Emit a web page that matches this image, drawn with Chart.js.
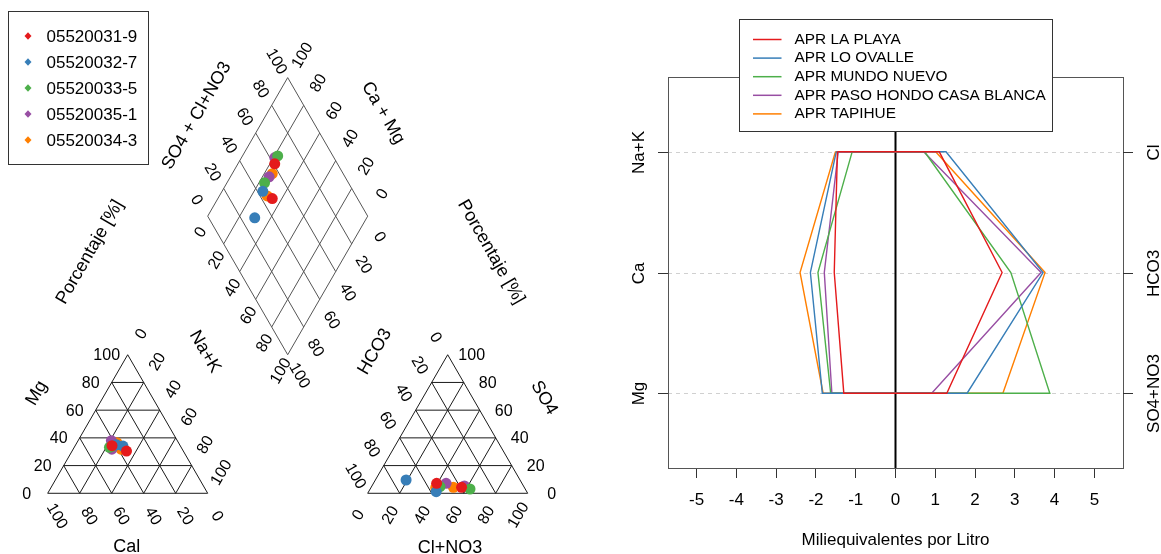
<!DOCTYPE html>
<html>
<head>
<meta charset="utf-8">
<script src="https://cdn.jsdelivr.net/npm/chart.js@4.4.1/dist/chart.umd.min.js"></script>
<style>
html,body{margin:0;padding:0;background:#fff;}
#wrap{position:relative;width:1161px;height:554px;overflow:hidden;background:#fff;}
#piper{position:absolute;left:0;top:0;width:580px;height:554px;}
#stiff{position:absolute;left:580px;top:0;width:581px;height:554px;}
</style>
</head>
<body>
<div id="wrap">
<canvas id="piper" width="580" height="554"></canvas>
<canvas id="stiff" width="581" height="554"></canvas>
</div>
<script>
// ---------- Datos diagrama de Piper (% meq), dos muestras por estacion ----------
const estaciones = ["05520031-9","05520032-7","05520033-5","05520035-1","05520034-3"]
const colores = ["#E41A1C","#377EB8","#4DAF4A","#984EA3","#FF7F00"]

const calcio = [[42.6,35.5],[39.5,35.9],[44.8,42.5],[41.2,44.0],[38.5,38.3]]
const magnesio = [[34.4,30.5],[35.0,34.1],[33.2,34.0],[38.0,31.8],[36.5,31.8]]
const sodioPotasio = [[23.0,34.0],[25.5,30.0],[22.0,23.5],[20.8,24.2],[25.0,29.9]]
const bicarbonato = [[39.2,53.3],[56.6,71.2],[34.5,52.4],[36.9,47.4],[44.3,55.5]]
const sulfato = [[4.3,7.2],[1.2,9.6],[3.1,4.8],[5.3,7.2],[4.3,4.0]]
const cloruroNitrato = [[56.5,39.5],[42.2,19.2],[62.4,42.8],[57.8,45.4],[51.4,40.5]]

const ticksPct = [0,20,40,60,80,100]

// ---------- Datos diagrama de Stiff (meq/L) ----------
const aprs = ["APR LA PLAYA","APR LO OVALLE","APR MUNDO NUEVO","APR PASO HONDO CASA BLANCA","APR TAPIHUE"]
const stNaK = [1.46,1.49,1.09,1.44,1.51]
const stCa = [1.54,2.14,1.95,1.79,2.40]
const stMg = [1.30,1.84,1.63,1.60,1.82]
const stCl = [1.10,1.27,0.73,0.71,1.01]
const stHCO3 = [2.68,3.71,2.90,3.66,3.76]
const stSO4 = [1.29,1.80,3.88,0.91,2.70]
const ticksMeq = [-5,-4,-3,-2,-1,0,1,2,3,4,5]
const filas = [1,2,3]
const cationesEtq = ["Mg","Ca","Na+K"]
const anionesEtq = ["SO4+NO3","HCO3","Cl"]

Chart.defaults.font.family = "'Liberation Sans', Arial, sans-serif"
Chart.defaults.color = "#000"

// ---------- geometria del Piper (unidades: lado del triangulo = 100) ----------
const H = Math.sqrt(3)/2
const C0={x:0,y:0}, C1={x:100,y:0}, C2={x:50,y:100*H}          // cationes
const A0={x:200,y:0}, A1={x:300,y:0}, A2={x:250,y:100*H}        // aniones
const RB={x:150,y:100*H}, RL={x:100,y:200*H}, RR={x:200,y:200*H}, RT={x:150,y:300*H} // rombo

function mezcla(a,b,t){ return {x:a.x+(b.x-a.x)*t, y:a.y+(b.y-a.y)*t} }

function puntoCation(mg,nak){ return {x:C0.x+nak+mg/2, y:mg*H} }
function puntoAnion(so4,cl){ return {x:A0.x+cl+so4/2, y:so4*H} }
function puntoRombo(camg,sc){ return {x:RB.x+(sc-camg)/2, y:RB.y+(camg+sc)*H} }

const piperDatasets = estaciones.map((e,i)=>{
  const pts=[]
  for(let k=0;k<2;k++){
    pts.push(puntoCation(magnesio[i][k],sodioPotasio[i][k]))
    pts.push(puntoAnion(sulfato[i][k],cloruroNitrato[i][k]))
    pts.push(puntoRombo(calcio[i][k]+magnesio[i][k], sulfato[i][k]+cloruroNitrato[i][k]))
  }
  return {label:e,data:pts,backgroundColor:colores[i],borderWidth:0,pointRadius:5.5,pointHoverRadius:5.5}
})

function px(chart,p){ return [chart.scales.x.getPixelForValue(p.x), chart.scales.y.getPixelForValue(p.y)] }
function linea(ctx,chart,a,b){
  const [x1,y1]=px(chart,a), [x2,y2]=px(chart,b)
  ctx.moveTo(x1,y1); ctx.lineTo(x2,y2)
}
function texto(ctx,t,x,y,rot,size,align){
  ctx.save()
  ctx.translate(x,y)
  ctx.rotate(rot*Math.PI/180)
  ctx.font=size+"px 'Liberation Sans', Arial, sans-serif"
  ctx.fillStyle="#000"
  ctx.textAlign=align||"center"
  ctx.textBaseline="middle"
  ctx.fillText(t,0,0)
  ctx.restore()
}

// grupos de etiquetas de ejes: [desde, hasta, dx, dy, rotacion]
const gruposTicks = [
  [C1,C0,9,23,60],      // Ca (base cationes)
  [C0,C2,-21,1,0],      // Mg
  [C2,C1,14,-20.5,-60], // Na+K
  [A0,A1,-9,22,-60],    // Cl+NO3
  [A1,A2,24,1,0],       // SO4
  [A2,A0,-12.5,-17,60], // HCO3
  [RL,RT,-11.5,-16,60], // SO4 + Cl+NO3
  [RR,RT,15,-22,-60],   // Ca + Mg
  [RL,RB,-6.7,16.4,-60],// Na+K rombo
  [RR,RB,11.5,21,60]    // HCO3 rombo
]
// titulos: texto, posicion (unidades), rotacion
const titulosPiper = [
  ["Mg",{x:-6.9,y:62.5},-60],
  ["Na+K",{x:98.3,y:88.5},60],
  ["Cal",{x:49.4,y:-33.6},0],
  ["HCO3",{x:204.6,y:88.5},-60],
  ["SO4",{x:310.2,y:59.6},60],
  ["Cl+NO3",{x:251.4,y:-34.2},0],
  ["SO4 + Cl+NO3",{x:93.1,y:236},-60],
  ["Ca + Mg",{x:209.6,y:237.7},60],
  ["Porcentaje [%]",{x:26.4,y:150.8},-60],
  ["Porcentaje [%]",{x:277.1,y:150.8},60]
]

const piperPlugin = {
  id:"piperRejilla",
  beforeDatasetsDraw(chart){
    const ctx=chart.ctx
    const niveles=ticksPct.slice(1,-1).map(v=>v/100)
    ctx.save()
    ctx.lineWidth=1
    ctx.strokeStyle="#1a1a1a"
    ;[[C0,C1,C2],[A0,A1,A2]].forEach(tri=>{
      ctx.beginPath()
      linea(ctx,chart,tri[0],tri[1]); linea(ctx,chart,tri[1],tri[2]); linea(ctx,chart,tri[2],tri[0])
      niveles.forEach(t=>{
        linea(ctx,chart,mezcla(tri[0],tri[1],t),mezcla(tri[0],tri[2],t))
        linea(ctx,chart,mezcla(tri[1],tri[0],t),mezcla(tri[1],tri[2],t))
        linea(ctx,chart,mezcla(tri[2],tri[0],t),mezcla(tri[2],tri[1],t))
      })
      ctx.stroke()
    })
    ctx.strokeStyle="#555"
    ctx.beginPath()
    linea(ctx,chart,RB,RL); linea(ctx,chart,RL,RT); linea(ctx,chart,RT,RR); linea(ctx,chart,RR,RB)
    niveles.forEach(t=>{
      linea(ctx,chart,mezcla(RB,RL,t),mezcla(RR,RT,t))
      linea(ctx,chart,mezcla(RB,RR,t),mezcla(RL,RT,t))
    })
    ctx.stroke()
    ctx.restore()
  },
  afterDraw(chart){
    const ctx=chart.ctx
    gruposTicks.forEach(g=>{
      ticksPct.forEach(v=>{
        const [x,y]=px(chart,mezcla(g[0],g[1],v/100))
        texto(ctx,String(v),x+g[2],y+g[3],g[4],16)
      })
    })
    titulosPiper.forEach(t=>{
      const [x,y]=px(chart,t[1])
      texto(ctx,t[0],x,y,t[2],18)
    })
    // leyenda
    ctx.save()
    ctx.fillStyle="#fff"
    ctx.fillRect(8.5,11.5,140,153)
    ctx.strokeStyle="#333"
    ctx.lineWidth=1
    ctx.strokeRect(8.5,11.5,140,153)
    estaciones.forEach((e,i)=>{
      const y=36+i*26
      ctx.fillStyle=colores[i]
      ctx.beginPath()
      ctx.moveTo(28,y-3.8); ctx.lineTo(31.5,y); ctx.lineTo(28,y+3.8); ctx.lineTo(24.5,y); ctx.closePath()
      ctx.fill()
      texto(ctx,e,46.5,y+1,0,17,"left")
    })
    ctx.restore()
  }
}

new Chart(document.getElementById("piper"),{
  type:"scatter",
  data:{datasets:piperDatasets},
  options:{
    responsive:false, animation:false, devicePixelRatio:1,
    layout:{padding:0,autoPadding:false},
    plugins:{legend:{display:false},tooltip:{enabled:false}},
    scales:{
      x:{type:"linear",display:false,min:-29.81,max:332.69},
      y:{type:"linear",display:false,min:-37.94,max:308.31}
    }
  },
  plugins:[piperPlugin]
})

// ---------- Diagrama de Stiff ----------
const stiffDatasets = aprs.map((n,i)=>({
  label:n,
  data:[
    {x:-stNaK[i],y:filas[2]},{x:stCl[i],y:filas[2]},
    {x:stHCO3[i],y:filas[1]},{x:stSO4[i],y:filas[0]},
    {x:-stMg[i],y:filas[0]},{x:-stCa[i],y:filas[1]},
    {x:-stNaK[i],y:filas[2]}
  ],
  borderColor:colores[i], borderWidth:1.4, pointRadius:0, showLine:true, fill:false, tension:0
}))

const stiffPlugin = {
  id:"stiffMarco",
  beforeDatasetsDraw(chart){
    const ctx=chart.ctx, a=chart.chartArea
    const sx=chart.scales.x, sy=chart.scales.y
    ctx.save()
    ctx.strokeStyle="#d0d0d0"
    ctx.lineWidth=1
    ctx.setLineDash([4,4])
    filas.forEach(f=>{
      const y=Math.round(sy.getPixelForValue(f))+0.5
      ctx.beginPath(); ctx.moveTo(a.left,y); ctx.lineTo(a.right,y); ctx.stroke()
    })
    ctx.setLineDash([])
    ctx.strokeStyle="#000"
    ctx.lineWidth=2
    const x0=sx.getPixelForValue(0)
    ctx.beginPath(); ctx.moveTo(x0,a.top); ctx.lineTo(x0,a.bottom); ctx.stroke()
    ctx.restore()
  },
  afterDraw(chart){
    const ctx=chart.ctx, a=chart.chartArea
    const sy=chart.scales.y
    ctx.save()
    ctx.strokeStyle="#555"
    ctx.lineWidth=1
    ctx.strokeRect(a.left+0.5,a.top+0.5,a.right-a.left,a.bottom-a.top)
    ctx.strokeStyle="#333"
    filas.forEach((f,i)=>{
      const y=Math.round(sy.getPixelForValue(f))+0.5
      ctx.beginPath()
      ctx.moveTo(a.left,y); ctx.lineTo(a.left-10,y)
      ctx.moveTo(a.right,y); ctx.lineTo(a.right+10,y)
      ctx.stroke()
      texto(ctx,cationesEtq[i],a.left-29,y,-90,17)
      texto(ctx,anionesEtq[i],a.right+31,y,-90,17)
    })
    texto(ctx,"Miliequivalentes por Litro",(a.left+a.right)/2,540,0,17)
    // leyenda
    ctx.fillStyle="#fff"
    ctx.fillRect(159.5,19.5,313,112)
    ctx.strokeStyle="#333"
    ctx.strokeRect(159.5,19.5,313,112)
    aprs.forEach((n,i)=>{
      const y=39.5+i*18.6
      ctx.strokeStyle=colores[i]
      ctx.lineWidth=1.5
      ctx.beginPath(); ctx.moveTo(173,y); ctx.lineTo(201.5,y); ctx.stroke()
      texto(ctx,n,214.5,y,0,15.4,"left")
    })
    ctx.restore()
  }
}

new Chart(document.getElementById("stiff"),{
  type:"scatter",
  data:{datasets:stiffDatasets},
  options:{
    responsive:false, animation:false, devicePixelRatio:1,
    layout:{padding:{left:88,right:38,top:77,bottom:0},autoPadding:false},
    plugins:{legend:{display:false},tooltip:{enabled:false}},
    scales:{
      x:{
        type:"linear", min:-5.72, max:5.72, position:"bottom",
        afterBuildTicks:s=>{ s.ticks=ticksMeq.map(v=>({value:v})) },
        afterFit:s=>{ s.height=86 },
        grid:{drawOnChartArea:false,drawTicks:true,tickLength:10,color:"#333"},
        border:{display:false},
        ticks:{color:"#000",font:{size:17},padding:12,maxRotation:0}
      },
      y:{type:"linear",display:false,min:0.38,max:3.62}
    }
  },
  plugins:[stiffPlugin]
})
</script>
</body>
</html>
